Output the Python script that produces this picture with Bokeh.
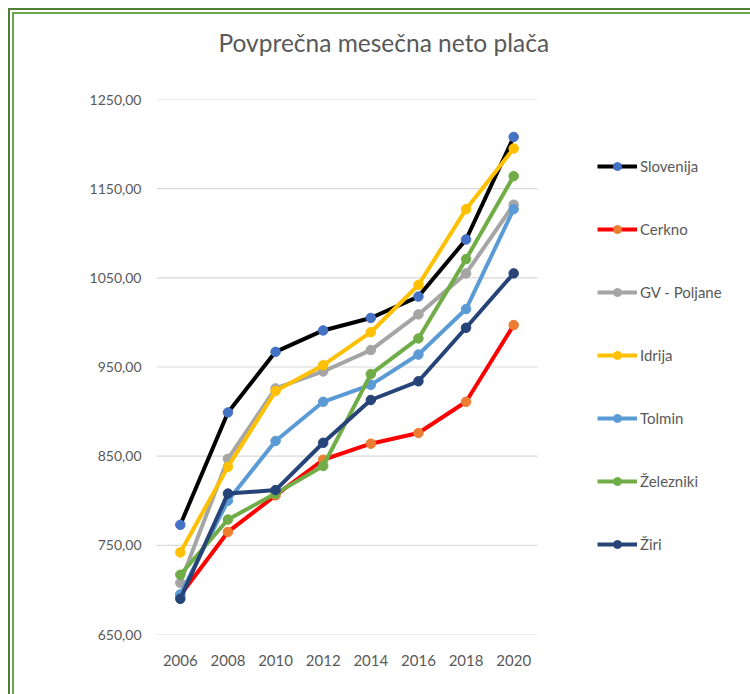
from bokeh.plotting import figure
from bokeh.models import Legend, LegendItem, FixedTicker, Title, InlineStyleSheet
from bokeh.embed import file_html
from bokeh.resources import INLINE

years = [2006, 2008, 2010, 2012, 2014, 2016, 2018, 2020]
year_labels = ["2006", "2008", "2010", "2012", "2014", "2016", "2018", "2020"]
slovenija = [773, 899, 967, 991, 1005, 1029, 1093, 1208]
cerkno = [694, 765, 806, 846, 864, 876, 911, 997]
gv_poljane = [708, 847, 926, 945, 969, 1009, 1055, 1132]
idrija = [742, 838, 923, 952, 989, 1042, 1127, 1195]
tolmin = [695, 800, 867, 911, 930, 964, 1015, 1127]
zelezniki = [717, 779, 808, 839, 942, 982, 1071, 1164]
ziri = [690, 808, 812, 865, 913, 934, 994, 1055]
y_ticks = [650, 750, 850, 950, 1050, 1150, 1250]
y_tick_labels = ["650,00", "750,00", "850,00", "950,00", "1050,00", "1150,00", "1250,00"]

series = [
    ("Slovenija", slovenija, "#000000", "#4472C4"),
    ("Cerkno", cerkno, "#FF0000", "#ED7D31"),
    ("GV - Poljane", gv_poljane, "#A5A5A5", "#A5A5A5"),
    ("Idrija", idrija, "#FFC000", "#FFC000"),
    ("Tolmin", tolmin, "#5B9BD5", "#5B9BD5"),
    ("Železniki", zelezniki, "#70AD47", "#70AD47"),
    ("Žiri", ziri, "#264478", "#264478"),
]

FONT = "Lato"
TXT = "#595959"

x_start = years[0] - 1
x_grid_end = years[-1] + 1
slot_px = 381 / 16.0
frame_w = 750 - 156 - 5
x_end = x_start + frame_w / slot_px

OUT = "linear-gradient(#507E32, #507E32)"
INN = "linear-gradient(#6AA84F, #6AA84F)"
border_css = InlineStyleSheet(css=(
    ":host { background: "
    f"{OUT} 8px 8px / calc(100% - 8px) 2px no-repeat, "
    f"{OUT} 8px 8px / 2px calc(100% - 8px) no-repeat, "
    f"{INN} 12px 12px / calc(100% - 12px) 2px no-repeat, "
    f"{INN} 12px 12px / 2px calc(100% - 12px) no-repeat, "
    "#ffffff; }"))

p = figure(x_range=(x_start, x_end), y_range=(650, 1250), width=750, height=694,
           output_backend="svg", toolbar_location=None,
           min_border_left=156, min_border_right=5, min_border_top=99, min_border_bottom=60,
           stylesheets=[border_css])
p.outline_line_color = None
p.background_fill_color = "white"
p.border_fill_alpha = 0

spacer = Title(text=" ", text_font_size="1px", standoff=40)
p.add_layout(spacer, "above")
title = Title(text="Povprečna mesečna neto plača", align="left", text_font=FONT,
              text_font_size="24.5px", text_font_style="normal", text_color=TXT,
              offset=62, standoff=0)
p.add_layout(title, "above")

p.segment(x0=[x_start] * len(y_ticks), x1=[x_grid_end] * len(y_ticks), y0=y_ticks, y1=y_ticks,
          line_color="#D9D9D9", line_width=1.2)

items = []
for name, vals, lc, mc in series:
    r1 = p.line(years, vals, line_color=lc, line_width=4)
    r2 = p.scatter(years, vals, size=9.5, fill_color=mc, line_color=mc)
    items.append(LegendItem(label=name, renderers=[r1, r2]))

legend = Legend(items=items, location=(441, 80), orientation="vertical",
                glyph_width=40, glyph_height=20, label_height=20, spacing=43,
                label_standoff=3, padding=0, margin=0,
                label_text_font=FONT, label_text_font_size="15px", label_text_color=TXT,
                border_line_alpha=0, background_fill_alpha=0)
p.add_layout(legend, "center")

p.xgrid.grid_line_color = None
p.ygrid.grid_line_color = None
p.xaxis.ticker = FixedTicker(ticks=years)
p.xaxis.major_label_overrides = {y: l for y, l in zip(years, year_labels)}
p.yaxis.ticker = FixedTicker(ticks=y_ticks)
p.yaxis.major_label_overrides = {t: l for t, l in zip(y_ticks, y_tick_labels)}
for ax in (p.xaxis[0], p.yaxis[0]):
    ax.axis_line_color = None
    ax.major_tick_line_color = None
    ax.minor_tick_line_color = None
    ax.major_label_text_font = FONT
    ax.major_label_text_color = TXT
p.yaxis.major_label_text_font_size = "14px"
p.xaxis.major_label_text_font_size = "15px"
p.yaxis.major_label_standoff = 9
p.xaxis.major_label_standoff = 14

open("out.html", "w").write(file_html(p, INLINE))
